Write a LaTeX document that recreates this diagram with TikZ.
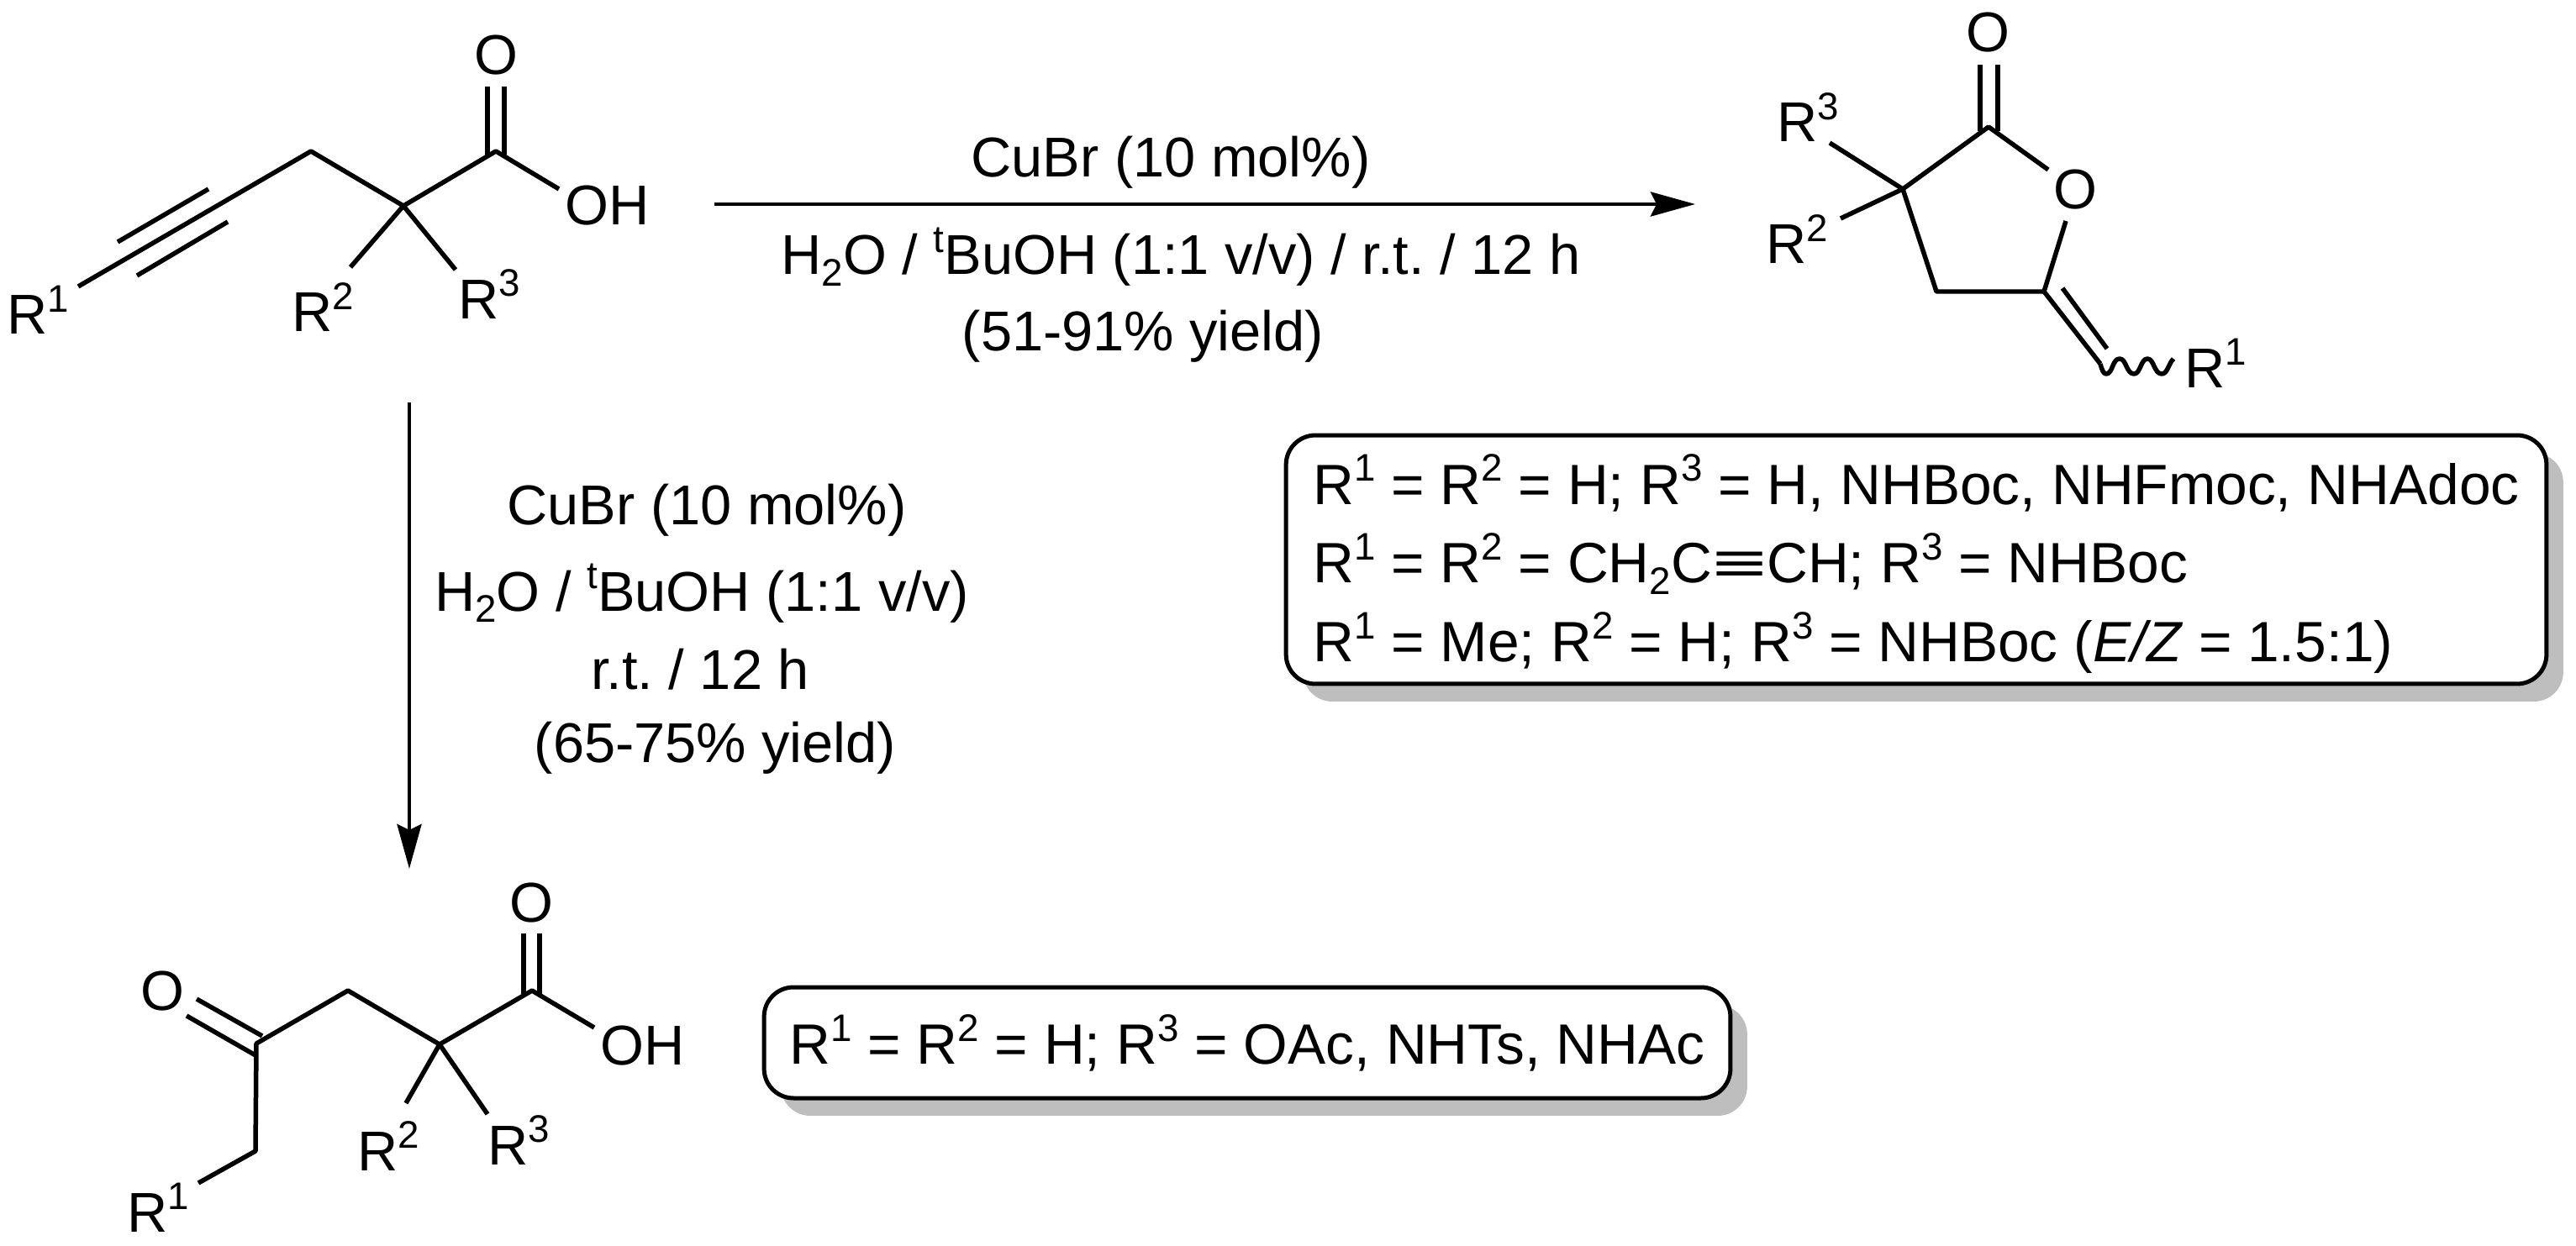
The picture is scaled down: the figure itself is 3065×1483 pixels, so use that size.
\documentclass[tikz,border=0pt]{standalone}
\usepackage{fontspec}
\setmainfont{Liberation Sans}
\usetikzlibrary{arrows.meta,shadows}

\newcommand{\Sup}[1]{\raisebox{0.4em}{\fontsize{26}{26}\selectfont #1}}
\newcommand{\Sub}[1]{\raisebox{-0.2em}{\fontsize{26}{26}\selectfont #1}}
\newcommand{\Rn}[1]{R\Sup{#1}}
\newcommand{\tripbar}{\scalebox{1.65}[1]{≡}}

\tikzset{
  bond/.style={line width=0.11cm, line cap=butt, line join=round},
  rxnarrow/.style={line width=0.09cm, -{Stealth[length=1.06cm,width=0.58cm,inset=0.14cm]}},
  atom/.style={inner sep=0, anchor=base, font=\frenchspacing\fontsize{38}{45}\selectfont},
  rlabel/.style={inner sep=0, anchor=base west, font=\fontsize{38}{45}\selectfont},
  subsbox/.style={draw, line width=0.1cm, fill=white, rounded corners=0.7cm, inner sep=0, align=left,
    font=\frenchspacing\fontsize{38.5}{53.5}\selectfont,
    copy shadow={shadow xshift=0.4cm, shadow yshift=-0.42cm, draw=none, fill=shadowgray}}
}
\definecolor{shadowgray}{HTML}{BEBEBE}

\begin{document}
\begin{tikzpicture}[x=0.02cm, y=-0.02cm]
\useasboundingbox (0,0) rectangle (3065,1483);

% starting acid
\coordinate (acC) at (590,180);
\coordinate (acQ) at (480,245);
\coordinate (acCH) at (370,180);
\coordinate (acEnd) at (93,341);
\coordinate (acOH) at (665,225);
\coordinate (acR2) at (417,318);
\coordinate (acR3) at (542,321);
\coordinate (acOa) at (580,103);
\coordinate (acOb) at (600,103);
\coordinate (acCa) at (580,184);
\coordinate (acCb) at (600,184);
\coordinate (acTa) at (140,288);
\coordinate (acTb) at (248,225);
\coordinate (acTc) at (163,328);
\coordinate (acTd) at (271,264);
\draw[bond] (acEnd) -- (acCH) -- (acQ) -- (acC) -- (acOH);
\draw[bond] (acQ) -- (acR2);
\draw[bond] (acQ) -- (acR3);
\draw[bond] (acOa) -- (acCa);
\draw[bond] (acOb) -- (acCb);
\draw[bond] (acTa) -- (acTb);
\draw[bond] (acTc) -- (acTd);
\node[atom] (acO) at (590,89) {O};
\node[atom] (acOHl) at (723,268) {OH};
\node[rlabel] (acRa) at (8,398) {\Rn{1}};
\node[rlabel] (acRb) at (347,395) {\Rn{2}};
\node[rlabel] (acRc) at (545,379) {\Rn{3}};

% lactone
\coordinate (laC) at (2366,151);
\coordinate (laQ) at (2264,225);
\coordinate (laCH) at (2304,347);
\coordinate (laV) at (2432,347);
\coordinate (laOr) at (2437,202);
\coordinate (laOs) at (2458,263);
\coordinate (laR3) at (2177,170);
\coordinate (laR2) at (2190,260);
\coordinate (laOa) at (2356,77);
\coordinate (laOb) at (2377,77);
\coordinate (laCa) at (2356,156);
\coordinate (laCb) at (2377,156);
\coordinate (laW) at (2499,433);
\coordinate (laDa) at (2454,343);
\coordinate (laDb) at (2507,415);
\draw[bond] (laOr) -- (laC) -- (laQ) -- (laCH) -- (laV) -- (laOs);
\draw[bond] (laQ) -- (laR3);
\draw[bond] (laQ) -- (laR2);
\draw[bond] (laOa) -- (laCa);
\draw[bond] (laOb) -- (laCb);
\draw[bond] (laV) -- (laW);
\draw[bond] (laDa) -- (laDb);
\draw[bond] (laW) .. controls (2501,441) and (2503,445) .. (2506,445)
  .. controls (2514,445) and (2513,427) .. (2522,427)
  .. controls (2530,427) and (2530,445) .. (2539,445)
  .. controls (2547,445) and (2547,427) .. (2555,427)
  .. controls (2563,427) and (2563,445) .. (2572,445)
  .. controls (2579,445) and (2580,433) .. (2586,427);
\node[atom] (laO) at (2365,62) {O};
\node[atom] (laOl) at (2469,249) {O};
\node[rlabel] (laRc) at (2114,169) {\Rn{3}};
\node[rlabel] (laRb) at (2101,314) {\Rn{2}};
\node[rlabel] (laRa) at (2599,461) {\Rn{1}};

% keto acid
\coordinate (keC) at (633,1179);
\coordinate (keQ) at (523,1243);
\coordinate (keCH) at (414,1179);
\coordinate (keK) at (305,1242);
\coordinate (keCd) at (304,1370);
\coordinate (keEnd) at (236,1408);
\coordinate (keOH) at (707,1223);
\coordinate (keR2) at (483,1313);
\coordinate (keR3) at (580,1326);
\coordinate (keOa) at (623,1111);
\coordinate (keOb) at (642,1111);
\coordinate (keCa) at (623,1183);
\coordinate (keCb) at (642,1183);
\coordinate (keDa) at (234,1189);
\coordinate (keDb) at (312,1233);
\coordinate (keDc) at (222,1209);
\coordinate (keDd) at (304,1256);
\draw[bond] (keEnd) -- (keCd) -- (keK) -- (keCH) -- (keQ) -- (keC) -- (keOH);
\draw[bond] (keQ) -- (keR2);
\draw[bond] (keQ) -- (keR3);
\draw[bond] (keOa) -- (keCa);
\draw[bond] (keOb) -- (keCb);
\draw[bond] (keDa) -- (keDb);
\draw[bond] (keDc) -- (keDd);
\node[atom] (keO) at (632,1097) {O};
\node[atom] (keOk) at (193,1202) {O};
\node[atom] (keOHl) at (765,1267) {OH};
\node[rlabel] (keRb) at (425,1393) {\Rn{2}};
\node[rlabel] (keRc) at (580,1386) {\Rn{3}};
\node[rlabel] (keRa) at (151,1466) {\Rn{1}};

% arrows
\coordinate (hStart) at (850,243);
\coordinate (hEnd) at (2017,243);
\coordinate (vStart) at (487,479);
\coordinate (vEnd) at (487,1034);
\draw[rxnarrow] (hStart) -- (hEnd);
\draw[rxnarrow] (vStart) -- (vEnd);

\node[atom] (hCat) at (1393,211) {CuBr (10 mol\%)};
\node[atom] (hCond) at (1405,327) {H\Sub{2}O / \Sup{t}BuOH (1:1 v/v) / r.t. / 12 h};
\node[atom] (hYield) at (1360,418) {(51-91\% yield)};

\node[atom] (vCat) at (841,624) {CuBr (10 mol\%)};
\node[atom] (vSolv) at (835,727) {H\Sub{2}O / \Sup{t}BuOH (1:1 v/v)};
\node[atom] (vCond) at (833,820) {r.t. / 12 h};
\node[atom] (vYield) at (851,907) {(65-75\% yield)};

% substituent boxes
\node[subsbox, minimum width=30cm, minimum height=5.92cm] (boxTop) at (2280,666)
  {\rule{0pt}{1.4cm}\Rn{1} = \Rn{2} = H; \Rn{3} = H, NHBoc, NHFmoc, NHAdoc\\
   \Rn{1} = \Rn{2} = CH\Sub{2}C\tripbar CH; \Rn{3} = NHBoc\\
   \Rn{1} = Me; \Rn{2} = H; \Rn{3} = NHBoc (\textit{E/Z} = 1.5:1)};
\node[subsbox, minimum width=23cm, minimum height=2.64cm] (boxBot) at (1484,1241)
  {\Rn{1} = \Rn{2} = H; \Rn{3} = OAc, NHTs, NHAc};
\end{tikzpicture}
\end{document}
